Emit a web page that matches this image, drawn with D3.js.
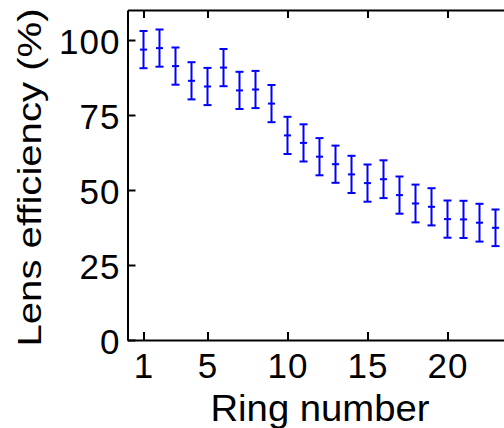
<!DOCTYPE html>
<html>
<head>
<meta charset="utf-8">
<script src="https://cdn.jsdelivr.net/npm/d3@7"></script>
<style>
  html, body { margin: 0; padding: 0; background: #fff; }
  svg { display: block; }
  text { font-family: "Liberation Sans", Arial, Helvetica, sans-serif; fill: #000; }
</style>
</head>
<body>
<svg id="chart" width="504" height="428"></svg>
<script>
// Data
const rings = [1,2,3,4,5,6,7,8,9,10,11,12,13,14,15,16,17,18,19,20,21,22,23];
const efficiency = [96.8, 97.3, 91.3, 86.4, 84.5, 90.8, 83.2, 83.5, 78.8, 68.2, 65.7, 61.1,
                    58.6, 55.2, 52.3, 53.6, 48.3, 45.5, 44.4, 40.3, 40.2, 39.1, 37.4];
const errors = [6.2, 6.2, 6.2, 6.2, 6.2, 6.2, 6.2, 6.2, 6.2, 6.2, 6.2, 6.2,
                6.2, 6.2, 6.2, 6.3, 6.2, 6.3, 6.2, 6.2, 6.2, 6.3, 6.1];
const xTicks = [1, 5, 10, 15, 20];
const yTicks = [0, 25, 50, 75, 100];
const xLabel = "Ring number";
const yLabel = "Lens efficiency (%)";

(function () {
const svg = d3.select("#chart");
const mLeft = 127.5, mRight = 511.5, mTop = 10, mBottom = 340;

const x = d3.scaleLinear().domain([0, 24]).range([mLeft, mRight]);
const y = d3.scaleLinear().domain([0, 110]).range([mBottom, mTop]);

const data = rings.map((r, i) => ({ r, v: efficiency[i], e: errors[i] }));

// Axes
const gx = svg.append("g").attr("transform", `translate(0,${mBottom})`)
  .call(d3.axisBottom(x).tickValues(xTicks).tickFormat(d3.format("d"))
        .tickSize(-8).tickSizeOuter(0).tickPadding(13));
const gxTop = svg.append("g").attr("transform", `translate(0,${mTop})`)
  .call(d3.axisTop(x).tickValues(xTicks).tickFormat("")
        .tickSize(-8).tickSizeOuter(0));
const gy = svg.append("g").attr("transform", `translate(${mLeft},0)`)
  .call(d3.axisLeft(y).tickValues(yTicks).tickFormat(d3.format("d"))
        .tickSize(-8).tickSizeOuter(0).tickPadding(7));

[gx, gxTop, gy].forEach(g => {
  g.select(".domain").attr("stroke", "#000").attr("stroke-width", 2);
  g.selectAll(".tick line").attr("stroke", "#000").attr("stroke-width", 2);
  g.selectAll(".tick text").attr("font-size", 35)
    .style("font-family", '"Liberation Sans", Arial, sans-serif').attr("fill", "#000");
});
gy.selectAll(".tick text").attr("dy", "0.39em").attr("letter-spacing", 1);
gx.selectAll(".tick text").attr("letter-spacing", 1);

// Error bars
const cap = 4;
const eb = svg.append("g").attr("stroke", "#0000ff").attr("stroke-width", 2);
const bars = eb.selectAll("g").data(data).join("g");
bars.append("line")
  .attr("x1", d => x(d.r)).attr("x2", d => x(d.r))
  .attr("y1", d => y(d.v + d.e)).attr("y2", d => y(d.v - d.e));
bars.append("line")
  .attr("x1", d => x(d.r) - cap).attr("x2", d => x(d.r) + cap)
  .attr("y1", d => y(d.v + d.e)).attr("y2", d => y(d.v + d.e));
bars.append("line")
  .attr("x1", d => x(d.r) - cap).attr("x2", d => x(d.r) + cap)
  .attr("y1", d => y(d.v - d.e)).attr("y2", d => y(d.v - d.e));
bars.append("line")
  .attr("x1", d => x(d.r) - cap + 0.5).attr("x2", d => x(d.r) + cap - 0.5)
  .attr("y1", d => y(d.v)).attr("y2", d => y(d.v));

// Axis labels
svg.append("text")
  .attr("x", 320).attr("y", 421)
  .attr("text-anchor", "middle")
  .attr("font-size", 36)
  .attr("textLength", 219).attr("lengthAdjust", "spacingAndGlyphs")
  .text(xLabel);

svg.append("text")
  .attr("transform", "translate(41,177.5) rotate(-90)")
  .attr("text-anchor", "middle")
  .attr("font-size", 34)
  .attr("textLength", 338).attr("lengthAdjust", "spacingAndGlyphs")
  .text(yLabel);
})();
</script>
</body>
</html>
